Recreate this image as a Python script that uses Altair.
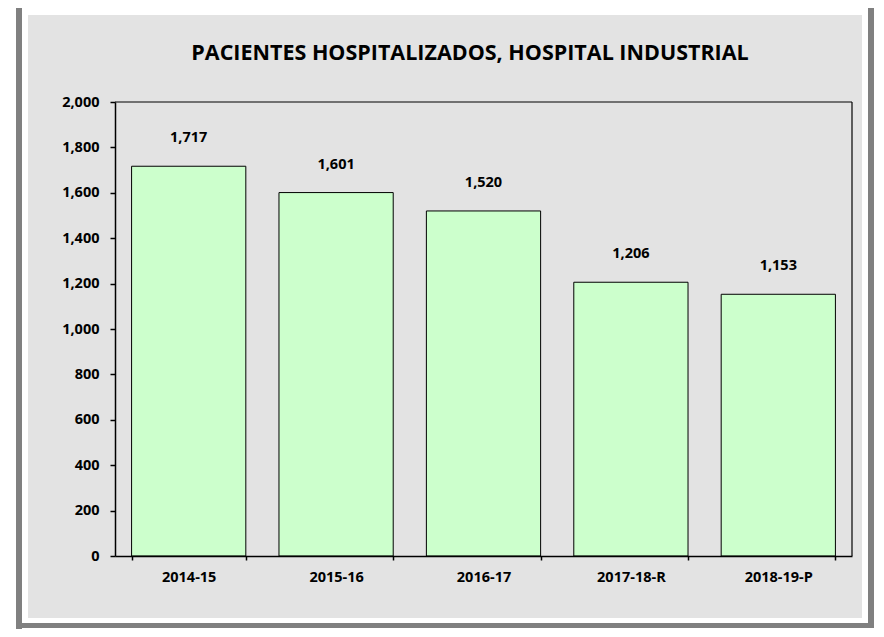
import altair as alt
import pandas as pd

categories = ["2014-15", "2015-16", "2016-17", "2017-18-R", "2018-19-P"]
values = [1717, 1601, 1520, 1206, 1153]
title_text = "PACIENTES HOSPITALIZADOS, HOSPITAL INDUSTRIAL"

df = pd.DataFrame({"periodo": categories, "pacientes": values})

W, H = 737, 454
FONT = "Open Sans"
GRAY = "#808080"
PANEL = "#e3e3e3"
LBL = 14.5

def box(x1, x2, y1, y2, color):
    return alt.Chart(df.head(1)).mark_rect(color=color).encode(
        x=alt.value(x1), x2=alt.value(x2), y=alt.value(y1), y2=alt.value(y2)
    )

frame = (
    box(-87, 747, -87, 516, PANEL)
    + box(-99, -93, -94, 530, GRAY)      # left line
    + box(753, 759, -94, 526, GRAY)      # right line of box
    + box(-93, 759, 521, 526, GRAY)      # bottom line of box
)

plot_top = alt.Chart(df.head(1)).mark_rule(color="black", strokeWidth=1.2).encode(
    x=alt.value(0), x2=alt.value(W), y=alt.value(0)
)
plot_right = alt.Chart(df.head(1)).mark_rule(color="black", strokeWidth=1.2).encode(
    x=alt.value(W), y=alt.value(0), y2=alt.value(H)
)

xenc = alt.X(
    "periodo:N", sort=categories, title=None,
    scale=alt.Scale(paddingInner=0.225, paddingOuter=0.1125),
    axis=alt.Axis(labelAngle=0, tickBand="extent", tickSize=4, labelPadding=10,
                  labelFont=FONT, labelFontSize=LBL, labelFontWeight="bold",
                  labelColor="black", domainColor="black", tickColor="black",
                  domainWidth=1.5, tickWidth=1.5, zindex=2),
)
yenc = alt.Y(
    "pacientes:Q", title=None,
    scale=alt.Scale(domain=[0, 2000], nice=False),
    axis=alt.Axis(values=list(range(0, 2001, 200)), format=",d", grid=False,
                  tickSize=5, labelPadding=11, labelFont=FONT, labelFontSize=LBL,
                  labelFontWeight="bold", labelColor="black", domainColor="black",
                  tickColor="black", domainWidth=1.5, tickWidth=1.5, zindex=2),
)

bars = alt.Chart(df).mark_bar(fill="#ccffcc", stroke="black", strokeWidth=1).encode(
    x=xenc, y=yenc
)

labels = alt.Chart(df).mark_text(
    font=FONT, fontSize=LBL, fontWeight="bold", color="black",
    baseline="alphabetic", dy=-24
).encode(
    x=alt.X("periodo:N", sort=categories),
    y=alt.Y("pacientes:Q"),
    text=alt.Text("pacientes:Q", format=",d"),
)

title = alt.Chart(df.head(1)).mark_text(
    font=FONT, fontSize=21.5, fontWeight="bold", color="black",
    baseline="alphabetic", align="center"
).encode(
    x=alt.value(355), y=alt.value(-42.5), text=alt.value(title_text)
)

chart = (frame + plot_top + plot_right + bars + labels + title).properties(
    width=W, height=H,
    autosize=alt.AutoSizeParams(type="none"),
    padding={"left": 107, "top": 94, "right": 24, "bottom": 73},
    background="white",
).configure_view(stroke=None, fill=None)

chart.save("out.html", embed_options={"renderer": "svg", "actions": False})
